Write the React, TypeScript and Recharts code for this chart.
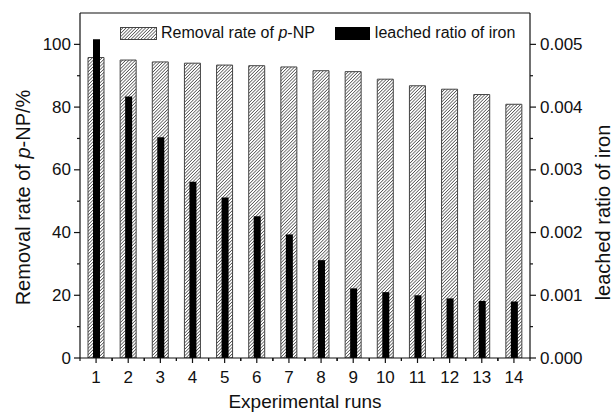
import React from 'react';
import { BarChart, Bar, XAxis, YAxis, Legend, ReferenceLine, Label } from 'recharts';

const runs = ['1', '2', '3', '4', '5', '6', '7', '8', '9', '10', '11', '12', '13', '14'];
const removalRate = [95.8, 95.0, 94.4, 94.0, 93.4, 93.2, 92.8, 91.6, 91.3, 88.9, 86.8, 85.7, 84.0, 80.9];
const ironRatio = [0.00508, 0.00417, 0.00352, 0.00281, 0.00256, 0.00226, 0.00197, 0.00156, 0.00111, 0.00105, 0.001, 0.00095, 0.00091, 0.0009];
const leftTicks = [0, 10, 20, 30, 40, 50, 60, 70, 80, 90, 100];
const rightTicks = [0, 0.0005, 0.001, 0.0015, 0.002, 0.0025, 0.003, 0.0035, 0.004, 0.0045, 0.005];

const data = runs.map((run, i) => ({ run, removal: removalRate[i], iron: ironRatio[i] }));

const FONT = '"Liberation Sans", Arial, Helvetica, sans-serif';
const INK = '#111';

function LeftTick(props: any) {
  const { x, y, payload } = props;
  const major = payload.value % 20 === 0;
  return (
    <g>
      <line x1={x} x2={x - (major ? 6 : 3)} y1={y} y2={y} stroke={INK} strokeWidth={1.2} />
      {major && (
        <text x={x - 9} y={y} textAnchor="end" dominantBaseline="central" fontSize={17} fontFamily={FONT} fill={INK}>
          {payload.value}
        </text>
      )}
    </g>
  );
}

function RightTick(props: any) {
  const { x, y, payload, index } = props;
  const major = index % 2 === 0;
  return (
    <g>
      <line x1={x} x2={x + (major ? 6 : 3)} y1={y} y2={y} stroke={INK} strokeWidth={1.2} />
      {major && (
        <text x={x + 10} y={y} textAnchor="start" dominantBaseline="central" fontSize={17} fontFamily={FONT} fill={INK}>
          {Number(payload.value).toFixed(3)}
        </text>
      )}
    </g>
  );
}

function BottomTick(props: any) {
  const { x, y, payload } = props;
  const half = payload.offset || 16;
  return (
    <g>
      <line x1={x} x2={x} y1={y} y2={y + 5} stroke={INK} strokeWidth={1.2} />
      <line x1={x - half} x2={x - half} y1={y} y2={y + 3} stroke={INK} strokeWidth={1.2} />
      <line x1={x + half} x2={x + half} y1={y} y2={y + 3} stroke={INK} strokeWidth={1.2} />
      <text x={x} y={y + 19} textAnchor="middle" dominantBaseline="central" fontSize={17} fontFamily={FONT} fill={INK}>
        {payload.value}
      </text>
    </g>
  );
}

function LeftTitle(props: any) {
  const vb = props.viewBox || { x: 0, y: 13, width: 80, height: 345 };
  const cx = vb.x + 23;
  const cy = vb.y + vb.height / 2 + 12;
  return (
    <text
      x={cx}
      y={cy}
      transform={`rotate(-90 ${cx} ${cy})`}
      textAnchor="middle"
      dominantBaseline="central"
      fontSize={20}
      fontFamily={FONT}
      fill={INK}
    >
      Removal rate of <tspan fontStyle="italic">p</tspan>-NP/%
    </text>
  );
}

function RightTitle(props: any) {
  const vb = props.viewBox || { x: 530, y: 13, width: 84, height: 345 };
  const cx = vb.x + 73;
  const cy = vb.y + vb.height / 2 + 27;
  return (
    <text
      x={cx}
      y={cy}
      transform={`rotate(-90 ${cx} ${cy})`}
      textAnchor="middle"
      dominantBaseline="central"
      fontSize={20}
      fontFamily={FONT}
      fill={INK}
    >
      leached ratio of iron
    </text>
  );
}

function BottomTitle(props: any) {
  const vb = props.viewBox || { x: 80, y: 358, width: 450, height: 55 };
  return (
    <text
      x={vb.x + vb.width / 2}
      y={vb.y + 43}
      textAnchor="middle"
      dominantBaseline="central"
      fontSize={19}
      fontFamily={FONT}
      fill={INK}
    >
      Experimental runs
    </text>
  );
}

function LegendContent() {
  return (
    <div style={{ display: 'flex', alignItems: 'center', fontFamily: FONT, fontSize: 16, color: INK, whiteSpace: 'nowrap', lineHeight: '18px' }}>
      <svg width={37} height={13} style={{ display: 'block' }}>
        <rect x={0.5} y={0.5} width={36} height={12} fill="url(#hatch)" stroke="#444" strokeWidth={1} />
      </svg>
      <span style={{ marginLeft: 4 }}>
        Removal rate of <i>p</i>-NP
      </span>
      <svg width={35} height={13} style={{ display: 'block', marginLeft: 20 }}>
        <rect width={35} height={13} fill="#000" />
      </svg>
      <span style={{ marginLeft: 5 }}>leached ratio of iron</span>
    </div>
  );
}

export default function App() {
  return (
    <div style={{ position: 'absolute', left: 0, top: 0, width: 614, height: 413, background: '#fff' }}>
      <BarChart width={614} height={413} data={data} margin={{ top: 13, right: 0, bottom: 0, left: 0 }}>
        <defs>
          <pattern id="hatch" width="2.3" height="2.3" patternUnits="userSpaceOnUse" patternTransform="rotate(45)">
            <rect width="2.3" height="2.3" fill="#fff" />
            <line x1="0" y1="0" x2="0" y2="2.3" stroke="#111" strokeWidth="1.1" />
          </pattern>
        </defs>
        <XAxis
          xAxisId="a"
          dataKey="run"
          height={55}
          interval={0}
          tickSize={0}
          tickMargin={0}
          tickLine={false}
          tick={<BottomTick />}
          axisLine={{ stroke: INK, strokeWidth: 1.2 }}
        >
          <Label content={<BottomTitle />} />
        </XAxis>
        <XAxis xAxisId="b" dataKey="run" hide />
        <YAxis
          yAxisId="left"
          width={80}
          domain={[0, 110]}
          ticks={leftTicks}
          interval={0}
          tickSize={0}
          tickMargin={0}
          tickLine={false}
          tick={<LeftTick />}
          axisLine={{ stroke: INK, strokeWidth: 1.2 }}
          allowDataOverflow
        >
          <Label content={<LeftTitle />} />
        </YAxis>
        <YAxis
          yAxisId="right"
          orientation="right"
          width={84}
          domain={[0, 0.0055]}
          ticks={rightTicks}
          interval={0}
          tickSize={0}
          tickMargin={0}
          tickLine={false}
          tick={<RightTick />}
          axisLine={{ stroke: INK, strokeWidth: 1.2 }}
          allowDataOverflow
        >
          <Label content={<RightTitle />} />
        </YAxis>
        <ReferenceLine xAxisId="a" yAxisId="left" y={110} stroke={INK} strokeWidth={1.2} />
        <Legend
          layout="horizontal"
          verticalAlign="middle"
          align="center"
          content={<LegendContent />}
          wrapperStyle={{ top: 24, left: 120, width: 'auto' }}
        />
        <Bar
          xAxisId="a"
          yAxisId="left"
          dataKey="removal"
          name="Removal rate of p-NP"
          barSize={16}
          fill="url(#hatch)"
          stroke="#444"
          strokeWidth={1}
          isAnimationActive={false}
        />
        <Bar
          xAxisId="b"
          yAxisId="right"
          dataKey="iron"
          name="leached ratio of iron"
          barSize={7}
          fill="#000"
          isAnimationActive={false}
        />
      </BarChart>
    </div>
  );
}
